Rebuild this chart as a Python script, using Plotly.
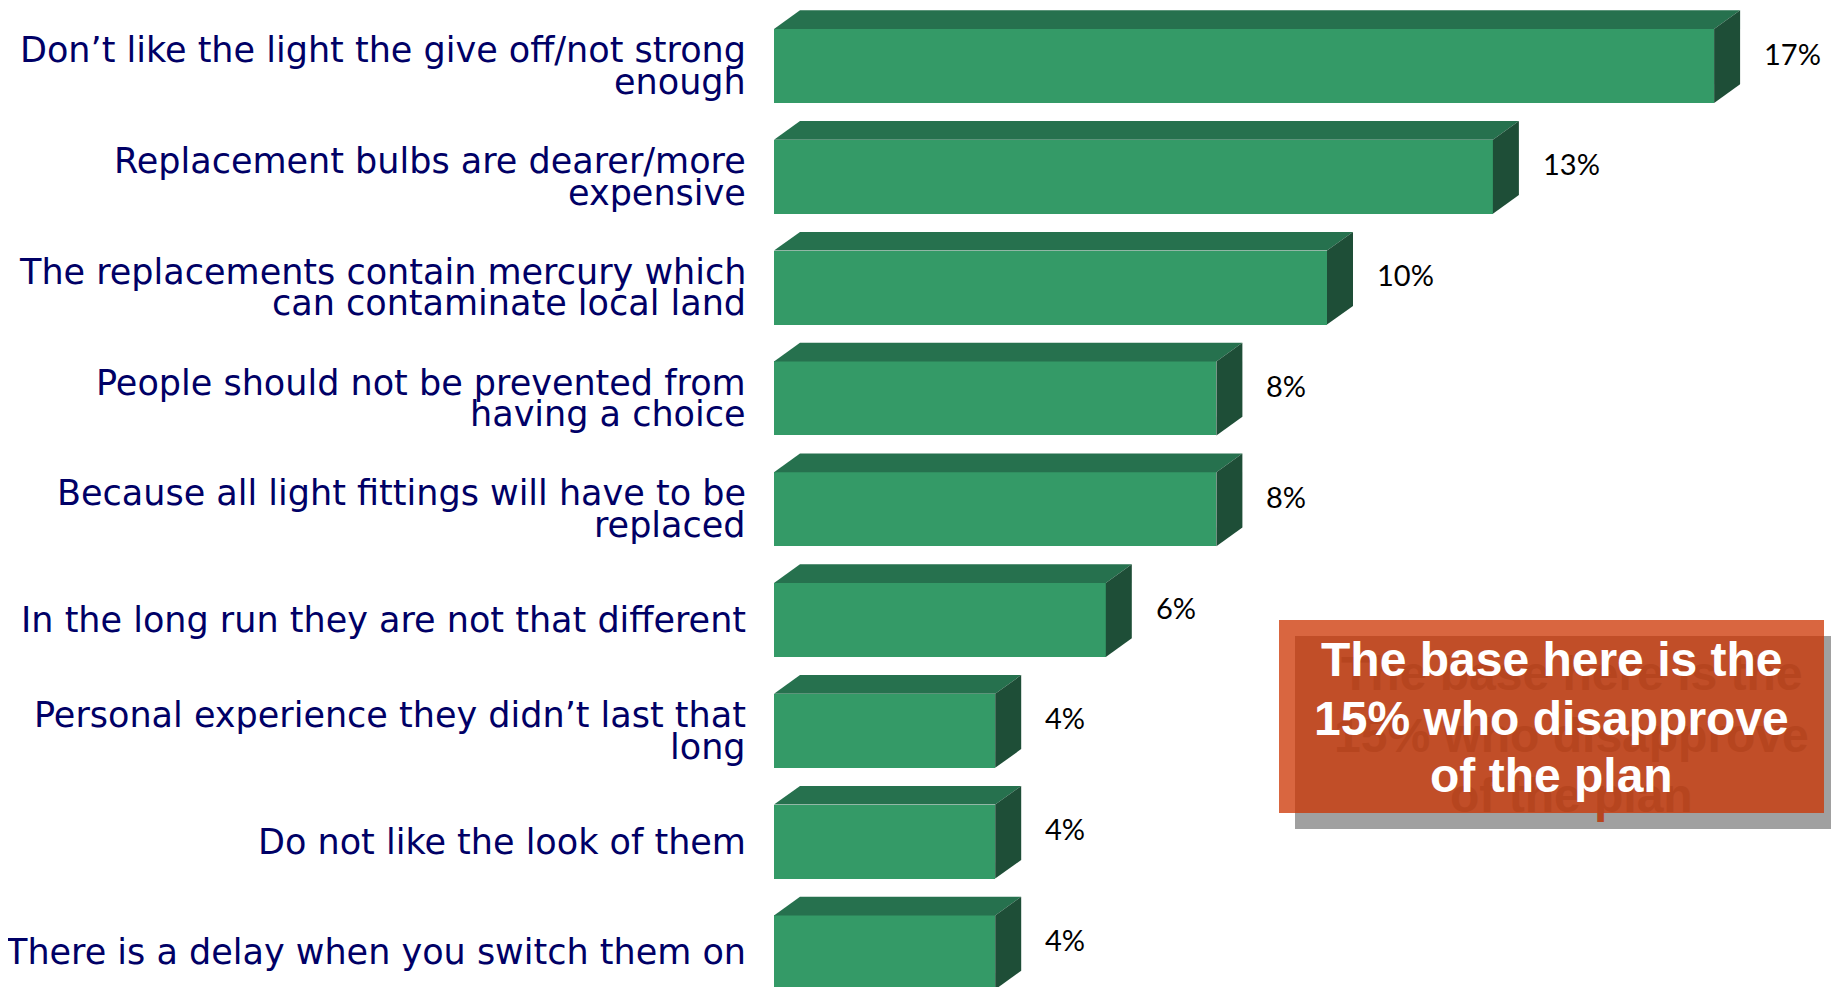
import plotly.graph_objects as go

categories = [
    ["Don\u2019t like the light the give off/not strong", "enough"],
    ["Replacement bulbs are dearer/more", "expensive"],
    ["The replacements contain mercury which", "can contaminate local land"],
    ["People should not be prevented from", "having a choice"],
    ["Because all light fittings will have to be", "replaced"],
    ["In the long run they are not that different"],
    ["Personal experience they didn\u2019t last that", "long"],
    ["Do not like the look of them"],
    ["There is a delay when you switch them on"],
]
values = [17, 13, 10, 8, 8, 6, 4, 4, 4]
value_labels = ["17%", "13%", "10%", "8%", "8%", "6%", "4%", "4%", "4%"]
note_lines = ["The base here is the", "15% who disapprove", "of the plan"]

W, H = 1839, 987
LEFT = 766
PX_PER_UNIT = 55.3
ROW_PX = 110.8
FIRST_CENTER_PX = 58
BAR_PX = 74
DX_PX, DY_PX = 26, 18.7

x_range = [0, (W - LEFT) / PX_PER_UNIT]
y_top = -FIRST_CENTER_PX / ROW_PX
y_bot = (H - FIRST_CENTER_PX) / ROW_PX
h = BAR_PX / ROW_PX
dx = DX_PX / PX_PER_UNIT
dy = DY_PX / ROW_PX

FRONT = "#349a67"
TOP = "#26714e"
SIDE = "#1e4e37"
NAVY = "#000066"

ys = list(range(len(values)))
fig = go.Figure()

fig.add_trace(go.Bar(x=values, y=ys, orientation="h", width=h,
                     marker=dict(color=FRONT, line=dict(width=0)),
                     hoverinfo="skip", showlegend=False))

for v, c in zip(values, ys):
    yt = c - h / 2
    yb = c + h / 2
    fig.add_trace(go.Scatter(
        x=[0, v, v + dx, dx, 0], y=[yt, yt, yt - dy, yt - dy, yt],
        fill="toself", fillcolor=TOP, mode="lines", line=dict(width=0, color=TOP),
        hoverinfo="skip", showlegend=False))
    fig.add_trace(go.Scatter(
        x=[v, v + dx, v + dx, v, v], y=[yt, yt - dy, yb - dy, yb, yt],
        fill="toself", fillcolor=SIDE, mode="lines", line=dict(width=0, color=SIDE),
        hoverinfo="skip", showlegend=False))

annotations = []
LABEL_FONT = dict(family="DejaVu Sans", size=35, color=NAVY)
for lines, c in zip(categories, ys):
    n = len(lines)
    for i, line in enumerate(lines):
        off = (i - (n - 1) / 2) * 31.5
        annotations.append(dict(x=0, y=c, xref="x", yref="y", text=line,
                                showarrow=False, xanchor="right", yanchor="middle",
                                xshift=-26, yshift=-off, font=LABEL_FONT))

for v, lab, c in zip(values, value_labels, ys):
    annotations.append(dict(x=v + dx, y=c, xref="x", yref="y", text=lab,
                            showarrow=False, xanchor="left", yanchor="middle",
                            xshift=22, yshift=13,
                            font=dict(family="Lato, Open Sans", size=29, color="black")))

# note box
bx0, bx1, by0, by1 = 1271, 1816, 612, 805
shapes = [
    dict(type="rect", xref="paper", yref="paper", layer="above",
         x0=(bx0 + 16 - LEFT) / (W - LEFT), x1=(bx1 + 16 - LEFT) / (W - LEFT),
         y0=1 - (by1 + 16) / H, y1=1 - (by0 + 16) / H,
         fillcolor="#a0a0a0", line=dict(width=0)),
    dict(type="rect", xref="paper", yref="paper", layer="above",
         x0=(bx0 - LEFT) / (W - LEFT), x1=(bx1 - LEFT) / (W - LEFT),
         y0=1 - by1 / H, y1=1 - by0 / H,
         fillcolor="rgba(204,51,0,0.75)", line=dict(width=0)),
]
cx = ((bx0 + bx1) / 2 - LEFT) / (W - LEFT)
baselines = [668, 727, 784]
shadow_dy = [14, 17, 20]
for line, bl, sdy in zip(note_lines, baselines, shadow_dy):
    ymid = bl - 17
    annotations.append(dict(x=cx, y=1 - ymid / H, xref="paper", yref="paper",
                            text="<b>" + line + "</b>", showarrow=False,
                            xanchor="center", yanchor="middle", xshift=20, yshift=-sdy,
                            font=dict(family="Liberation Sans, Arial", size=48, color="#b6451f")))
for line, bl in zip(note_lines, baselines):
    ymid = bl - 17
    annotations.append(dict(x=cx, y=1 - ymid / H, xref="paper", yref="paper",
                            text="<b>" + line + "</b>", showarrow=False,
                            xanchor="center", yanchor="middle",
                            font=dict(family="Liberation Sans, Arial", size=48, color="white")))

fig.update_layout(
    width=W, height=H,
    margin=dict(l=LEFT, r=0, t=0, b=0),
    plot_bgcolor="white", paper_bgcolor="white",
    xaxis=dict(range=x_range, visible=False, fixedrange=True),
    yaxis=dict(range=[y_bot, y_top], visible=False, fixedrange=True),
    annotations=annotations, shapes=shapes, bargap=0,
)
fig.write_html("out.html")
